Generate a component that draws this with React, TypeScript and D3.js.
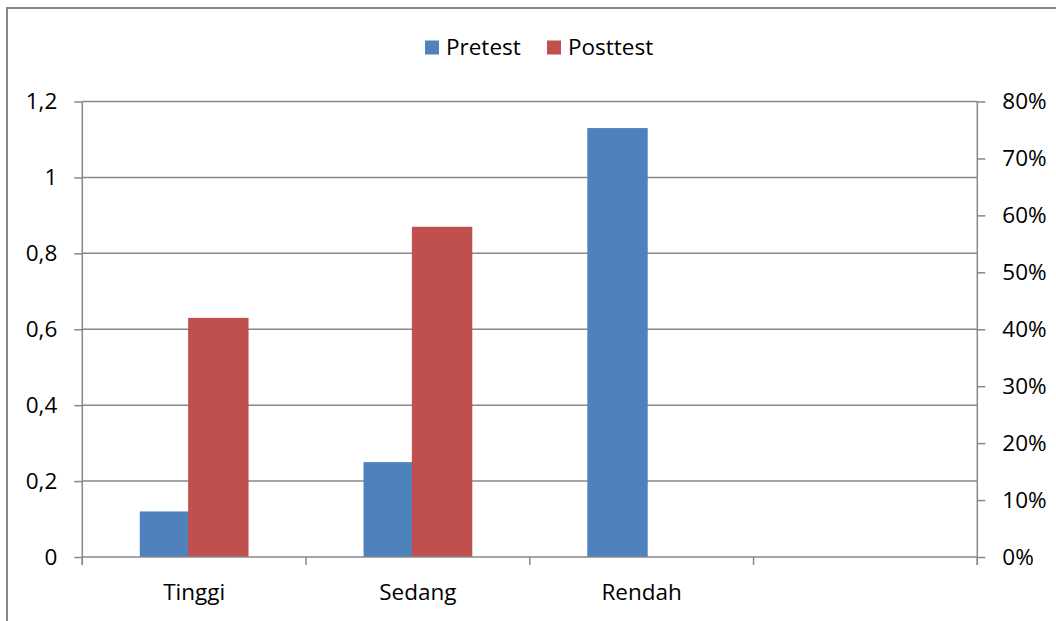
import React, { useEffect, useRef } from "react"
import * as d3 from "d3"

// data
const categories = ["Tinggi", "Sedang", "Rendah", ""]
const seriesNames = ["Pretest", "Posttest"]
const pretest = [0.12, 0.25, 1.13, null]
const posttest = [0.63, 0.87, null, null]
const leftTicks = [0, 0.2, 0.4, 0.6, 0.8, 1, 1.2]
const rightTicks = [0, 0.1, 0.2, 0.3, 0.4, 0.5, 0.6, 0.7, 0.8]

const colors = ["#4F81BD", "#C0504D"]
const gridColor = "#888888"
const font = "'Open Sans', sans-serif"
const fontSize = 22.5

const width = 1056
const height = 621
const margin = { top: 101.5, right: 78.7, bottom: 64, left: 82.3 }

const commaFormat = d3.formatLocale({ decimal: ",", thousands: ".", grouping: [3], currency: ["", ""] }).format("~g")

export default function App() {
    const ref = useRef<SVGSVGElement>(null)

    useEffect(() => {
        const svg = d3.select(ref.current)
        svg.selectAll("*").remove()

        const x = d3.scaleBand()
            .domain(categories.map((c, i) => String(i)))
            .range([margin.left, width - margin.right])
            .paddingInner(0)
            .paddingOuter(0)

        const y = d3.scaleLinear()
            .domain([0, 1.2])
            .range([height - margin.bottom, margin.top])

        const y2 = d3.scaleLinear()
            .domain([0, 0.8])
            .range([height - margin.bottom, margin.top])

        // clustered bars, 20% overlap like Excel
        const barW = x.bandwidth() * 0.27
        const overlap = barW * 0.2
        const groupW = barW * 2 - overlap

        // chart border
        svg.append("rect")
            .attr("x", 7)
            .attr("y", 8)
            .attr("width", width + 20)
            .attr("height", height + 20)
            .attr("fill", "white")
            .attr("stroke", gridColor)
            .attr("stroke-width", 2)

        // gridlines
        svg.append("g")
            .selectAll("line")
            .data(leftTicks.filter(t => t > 0))
            .join("line")
            .attr("x1", margin.left)
            .attr("x2", width - margin.right)
            .attr("y1", d => y(d))
            .attr("y2", d => y(d))
            .attr("stroke", gridColor)
            .attr("stroke-width", 1.5)

        // bars
        const allSeries = [pretest, posttest]
        allSeries.forEach((vals, s) => {
            svg.append("g")
                .selectAll("rect")
                .data(vals.map((v, i) => ({ v, i })).filter(d => d.v !== null))
                .join("rect")
                .attr("x", d => (x(String(d.i)) as number) + x.bandwidth() / 2 - groupW / 2 + s * (barW - overlap))
                .attr("width", barW)
                .attr("y", d => y(d.v as number))
                .attr("height", d => y(0) - y(d.v as number))
                .attr("fill", colors[s])
        })

        // left axis
        const left = svg.append("g")
            .attr("transform", `translate(${margin.left},0)`)
            .call(d3.axisLeft(y).tickValues(leftTicks).tickSize(8).tickPadding(17).tickFormat(d => commaFormat(d as number)))
        left.select(".domain").remove()
        left.append("line")
            .attr("y1", y(1.2))
            .attr("y2", y(0) + 8)
            .attr("stroke", gridColor)
            .attr("stroke-width", 1.5)

        // right axis
        const right = svg.append("g")
            .attr("transform", `translate(${width - margin.right},0)`)
            .call(d3.axisRight(y2).tickValues(rightTicks).tickSize(8).tickPadding(17).tickFormat(d3.format(".0%")))
        right.select(".domain").remove()
        right.append("line")
            .attr("y1", y2(0.8))
            .attr("y2", y2(0) + 8)
            .attr("stroke", gridColor)
            .attr("stroke-width", 1.5)

        // bottom axis: ticks on category boundaries
        const bottom = svg.append("g")
        const bounds = categories.map((c, i) => x(String(i)) as number).concat([width - margin.right])
        bottom.append("line")
            .attr("x1", margin.left)
            .attr("x2", width - margin.right)
            .attr("y1", y(0))
            .attr("y2", y(0))
            .attr("stroke", gridColor)
            .attr("stroke-width", 1.5)
        bottom.selectAll("line.tick")
            .data(bounds)
            .join("line")
            .attr("class", "tick")
            .attr("x1", d => d)
            .attr("x2", d => d)
            .attr("y1", y(0))
            .attr("y2", y(0) + 8)
            .attr("stroke", gridColor)
            .attr("stroke-width", 1.5)
        bottom.selectAll("text")
            .data(categories)
            .join("text")
            .attr("x", (d, i) => (x(String(i)) as number) + x.bandwidth() / 2)
            .attr("y", 600)
            .attr("text-anchor", "middle")
            .text(d => d)

        svg.selectAll(".tick line").attr("stroke", gridColor).attr("stroke-width", 1.5)
        svg.selectAll("text")
            .attr("font-family", font)
            .attr("font-size", fontSize)
            .attr("fill", "#000")

        // legend
        const legendX = [425, 547]
        const legend = svg.append("g")
        seriesNames.forEach((name, i) => {
            legend.append("rect")
                .attr("x", legendX[i])
                .attr("y", 40.5)
                .attr("width", 14)
                .attr("height", 14)
                .attr("fill", colors[i])
            legend.append("text")
                .attr("x", legendX[i] + 21)
                .attr("y", 55)
                .attr("font-family", font)
                .attr("font-size", fontSize)
                .attr("fill", "#000")
                .text(name)
        })
    }, [])

    return (
        <svg ref={ref} width={width} height={height}
            style={{ position: "absolute", left: 0, top: 0, background: "white" }} />
    )
}
